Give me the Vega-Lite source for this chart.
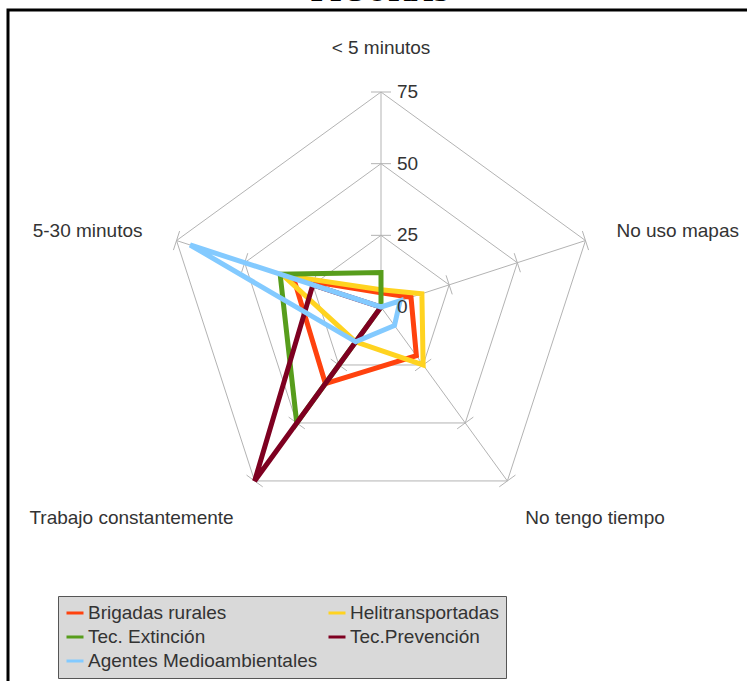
{
  "$schema": "https://vega.github.io/schema/vega-lite/v6.json",
  "width": 745,
  "height": 680,
  "autosize": {"type": "none"},
  "padding": {"left": 8, "top": 10, "right": 0, "bottom": 0},
  "background": "white",
  "config": {"view": {"stroke": "#000000", "strokeWidth": 3}},
  "title": {"text": "FIGURAS", "font": "Liberation Serif", "fontSize": 31, "fontWeight": "bold", "color": "#000000", "anchor": "middle", "frame": "group", "baseline": "alphabetic", "offset": 0, "dy": 22},
  "datasets": {
    "series": [
      {"serie": "Brigadas rurales", "eje": "< 5 minutos", "valor": 5},
      {"serie": "Brigadas rurales", "eje": "No uso mapas", "valor": 11},
      {"serie": "Brigadas rurales", "eje": "No tengo tiempo", "valor": 21},
      {"serie": "Brigadas rurales", "eje": "Trabajo constantemente", "valor": 33},
      {"serie": "Brigadas rurales", "eje": "5-30 minutos", "valor": 32},
      {"serie": "Helitransportadas", "eje": "< 5 minutos", "valor": 6},
      {"serie": "Helitransportadas", "eje": "No uso mapas", "valor": 15},
      {"serie": "Helitransportadas", "eje": "No tengo tiempo", "valor": 25},
      {"serie": "Helitransportadas", "eje": "Trabajo constantemente", "valor": 15},
      {"serie": "Helitransportadas", "eje": "5-30 minutos", "valor": 36},
      {"serie": "Tec. Extinción", "eje": "< 5 minutos", "valor": 12},
      {"serie": "Tec. Extinción", "eje": "No uso mapas", "valor": 0},
      {"serie": "Tec. Extinción", "eje": "No tengo tiempo", "valor": 0},
      {"serie": "Tec. Extinción", "eje": "Trabajo constantemente", "valor": 50},
      {"serie": "Tec. Extinción", "eje": "5-30 minutos", "valor": 37},
      {"serie": "Tec.Prevención", "eje": "< 5 minutos", "valor": 0},
      {"serie": "Tec.Prevención", "eje": "No uso mapas", "valor": 0},
      {"serie": "Tec.Prevención", "eje": "No tengo tiempo", "valor": 0},
      {"serie": "Tec.Prevención", "eje": "Trabajo constantemente", "valor": 75},
      {"serie": "Tec.Prevención", "eje": "5-30 minutos", "valor": 25},
      {"serie": "Agentes Medioambientales", "eje": "< 5 minutos", "valor": 0},
      {"serie": "Agentes Medioambientales", "eje": "No uso mapas", "valor": 7},
      {"serie": "Agentes Medioambientales", "eje": "No tengo tiempo", "valor": 8},
      {"serie": "Agentes Medioambientales", "eje": "Trabajo constantemente", "valor": 15},
      {"serie": "Agentes Medioambientales", "eje": "5-30 minutos", "valor": 70}
    ],
    "ejes": [
      {"eje": "< 5 minutos"},
      {"eje": "No uso mapas"},
      {"eje": "No tengo tiempo"},
      {"eje": "Trabajo constantemente"},
      {"eje": "5-30 minutos"}
    ],
    "rejilla": [
      {"eje": "< 5 minutos", "nivel": 25},
      {"eje": "No uso mapas", "nivel": 25},
      {"eje": "No tengo tiempo", "nivel": 25},
      {"eje": "Trabajo constantemente", "nivel": 25},
      {"eje": "5-30 minutos", "nivel": 25},
      {"eje": "< 5 minutos", "nivel": 50},
      {"eje": "No uso mapas", "nivel": 50},
      {"eje": "No tengo tiempo", "nivel": 50},
      {"eje": "Trabajo constantemente", "nivel": 50},
      {"eje": "5-30 minutos", "nivel": 50},
      {"eje": "< 5 minutos", "nivel": 75},
      {"eje": "No uso mapas", "nivel": 75},
      {"eje": "No tengo tiempo", "nivel": 75},
      {"eje": "Trabajo constantemente", "nivel": 75},
      {"eje": "5-30 minutos", "nivel": 75}
    ],
    "niveles": [
      {"nivel": 0},
      {"nivel": 25},
      {"nivel": 50},
      {"nivel": 75}
    ]
  },
  "layer": [
    {
      "data": {"name": "rejilla"},
      "transform": [
        {"calculate": "indexof(['< 5 minutos','No uso mapas','No tengo tiempo','Trabajo constantemente','5-30 minutos'], datum.eje)", "as": "idx"},
        {"calculate": "PI/2 - datum.idx*2*PI/5", "as": "ang"},
        {"calculate": "datum.nivel*215/75*cos(datum.ang)", "as": "gx"},
        {"calculate": "datum.nivel*215/75*sin(datum.ang)", "as": "gy"}
      ],
      "mark": {"type": "line", "interpolate": "linear-closed", "stroke": "#b3b3b3", "strokeWidth": 1},
      "encoding": {
        "x": {"field": "gx", "type": "quantitative", "scale": {"domain": [-373, 372], "nice": false, "zero": false}, "axis": null},
        "y": {"field": "gy", "type": "quantitative", "scale": {"domain": [-383, 297], "nice": false, "zero": false}, "axis": null},
        "detail": {"field": "nivel", "type": "nominal"},
        "order": {"field": "idx", "type": "quantitative"}
      }
    },
    {
      "data": {"name": "ejes"},
      "transform": [
        {"calculate": "indexof(['< 5 minutos','No uso mapas','No tengo tiempo','Trabajo constantemente','5-30 minutos'], datum.eje)", "as": "idx"},
        {"calculate": "PI/2 - datum.idx*2*PI/5", "as": "ang"},
        {"calculate": "0", "as": "c"},
        {"calculate": "215*cos(datum.ang)", "as": "ex"},
        {"calculate": "215*sin(datum.ang)", "as": "ey"}
      ],
      "mark": {"type": "rule", "stroke": "#b3b3b3", "strokeWidth": 1},
      "encoding": {
        "x": {"field": "c", "type": "quantitative", "scale": {"domain": [-373, 372], "nice": false, "zero": false}, "axis": null},
        "y": {"field": "c", "type": "quantitative", "scale": {"domain": [-383, 297], "nice": false, "zero": false}, "axis": null},
        "x2": {"field": "ex"},
        "y2": {"field": "ey"}
      }
    },
    {
      "data": {"name": "rejilla"},
      "transform": [
        {"calculate": "indexof(['< 5 minutos','No uso mapas','No tengo tiempo','Trabajo constantemente','5-30 minutos'], datum.eje)", "as": "idx"},
        {"calculate": "PI/2 - datum.idx*2*PI/5", "as": "ang"},
        {"calculate": "datum.nivel*215/75*cos(datum.ang) + 10*sin(datum.ang)", "as": "t1x"},
        {"calculate": "datum.nivel*215/75*sin(datum.ang) - 10*cos(datum.ang)", "as": "t1y"},
        {"calculate": "datum.nivel*215/75*cos(datum.ang) - 10*sin(datum.ang)", "as": "t2x"},
        {"calculate": "datum.nivel*215/75*sin(datum.ang) + 10*cos(datum.ang)", "as": "t2y"}
      ],
      "mark": {"type": "rule", "stroke": "#b3b3b3", "strokeWidth": 1},
      "encoding": {
        "x": {"field": "t1x", "type": "quantitative", "scale": {"domain": [-373, 372], "nice": false, "zero": false}, "axis": null},
        "y": {"field": "t1y", "type": "quantitative", "scale": {"domain": [-383, 297], "nice": false, "zero": false}, "axis": null},
        "x2": {"field": "t2x"},
        "y2": {"field": "t2y"}
      }
    },
    {
      "data": {"name": "ejes"},
      "transform": [
        {"calculate": "indexof(['< 5 minutos','No uso mapas','No tengo tiempo','Trabajo constantemente','5-30 minutos'], datum.eje)", "as": "idx"},
        {"filter": "datum.idx == 0"},
        {"calculate": "PI/2 - datum.idx*2*PI/5", "as": "ang"},
        {"calculate": "215*cos(datum.ang)", "as": "ex"},
        {"calculate": "215*sin(datum.ang)", "as": "ey"}
      ],
      "mark": {"type": "text", "align": "center", "baseline": "middle", "dy": -44, "font": "Liberation Sans", "fontSize": 19, "color": "#333333"},
      "encoding": {
        "x": {"field": "ex", "type": "quantitative", "scale": {"domain": [-373, 372], "nice": false, "zero": false}, "axis": null},
        "y": {"field": "ey", "type": "quantitative", "scale": {"domain": [-383, 297], "nice": false, "zero": false}, "axis": null},
        "text": {"field": "eje", "type": "nominal"}
      }
    },
    {
      "data": {"name": "ejes"},
      "transform": [
        {"calculate": "indexof(['< 5 minutos','No uso mapas','No tengo tiempo','Trabajo constantemente','5-30 minutos'], datum.eje)", "as": "idx"},
        {"filter": "datum.idx == 1"},
        {"calculate": "PI/2 - datum.idx*2*PI/5", "as": "ang"},
        {"calculate": "215*cos(datum.ang)", "as": "ex"},
        {"calculate": "215*sin(datum.ang)", "as": "ey"}
      ],
      "mark": {"type": "text", "align": "left", "baseline": "middle", "dx": 31, "dy": -10, "font": "Liberation Sans", "fontSize": 19, "color": "#333333"},
      "encoding": {
        "x": {"field": "ex", "type": "quantitative", "scale": {"domain": [-373, 372], "nice": false, "zero": false}, "axis": null},
        "y": {"field": "ey", "type": "quantitative", "scale": {"domain": [-383, 297], "nice": false, "zero": false}, "axis": null},
        "text": {"field": "eje", "type": "nominal"}
      }
    },
    {
      "data": {"name": "ejes"},
      "transform": [
        {"calculate": "indexof(['< 5 minutos','No uso mapas','No tengo tiempo','Trabajo constantemente','5-30 minutos'], datum.eje)", "as": "idx"},
        {"filter": "datum.idx == 2"},
        {"calculate": "PI/2 - datum.idx*2*PI/5", "as": "ang"},
        {"calculate": "215*cos(datum.ang)", "as": "ex"},
        {"calculate": "215*sin(datum.ang)", "as": "ey"}
      ],
      "mark": {"type": "text", "align": "left", "baseline": "middle", "dx": 18, "dy": 37, "font": "Liberation Sans", "fontSize": 19, "color": "#333333"},
      "encoding": {
        "x": {"field": "ex", "type": "quantitative", "scale": {"domain": [-373, 372], "nice": false, "zero": false}, "axis": null},
        "y": {"field": "ey", "type": "quantitative", "scale": {"domain": [-383, 297], "nice": false, "zero": false}, "axis": null},
        "text": {"field": "eje", "type": "nominal"}
      }
    },
    {
      "data": {"name": "ejes"},
      "transform": [
        {"calculate": "indexof(['< 5 minutos','No uso mapas','No tengo tiempo','Trabajo constantemente','5-30 minutos'], datum.eje)", "as": "idx"},
        {"filter": "datum.idx == 3"},
        {"calculate": "PI/2 - datum.idx*2*PI/5", "as": "ang"},
        {"calculate": "215*cos(datum.ang)", "as": "ex"},
        {"calculate": "215*sin(datum.ang)", "as": "ey"}
      ],
      "mark": {"type": "text", "align": "right", "baseline": "middle", "dx": -21, "dy": 37, "font": "Liberation Sans", "fontSize": 19, "color": "#333333"},
      "encoding": {
        "x": {"field": "ex", "type": "quantitative", "scale": {"domain": [-373, 372], "nice": false, "zero": false}, "axis": null},
        "y": {"field": "ey", "type": "quantitative", "scale": {"domain": [-383, 297], "nice": false, "zero": false}, "axis": null},
        "text": {"field": "eje", "type": "nominal"}
      }
    },
    {
      "data": {"name": "ejes"},
      "transform": [
        {"calculate": "indexof(['< 5 minutos','No uso mapas','No tengo tiempo','Trabajo constantemente','5-30 minutos'], datum.eje)", "as": "idx"},
        {"filter": "datum.idx == 4"},
        {"calculate": "PI/2 - datum.idx*2*PI/5", "as": "ang"},
        {"calculate": "215*cos(datum.ang)", "as": "ex"},
        {"calculate": "215*sin(datum.ang)", "as": "ey"}
      ],
      "mark": {"type": "text", "align": "right", "baseline": "middle", "dx": -34, "dy": -10, "font": "Liberation Sans", "fontSize": 19, "color": "#333333"},
      "encoding": {
        "x": {"field": "ex", "type": "quantitative", "scale": {"domain": [-373, 372], "nice": false, "zero": false}, "axis": null},
        "y": {"field": "ey", "type": "quantitative", "scale": {"domain": [-383, 297], "nice": false, "zero": false}, "axis": null},
        "text": {"field": "eje", "type": "nominal"}
      }
    },
    {
      "data": {"name": "series"},
      "transform": [
        {"calculate": "indexof(['< 5 minutos','No uso mapas','No tengo tiempo','Trabajo constantemente','5-30 minutos'], datum.eje)", "as": "idx"},
        {"calculate": "PI/2 - datum.idx*2*PI/5", "as": "ang"},
        {"calculate": "datum.valor*215/75*cos(datum.ang)", "as": "px"},
        {"calculate": "datum.valor*215/75*sin(datum.ang)", "as": "py"}
      ],
      "mark": {"type": "line", "interpolate": "linear-closed", "strokeWidth": 5, "strokeJoin": "miter"},
      "encoding": {
        "x": {"field": "px", "type": "quantitative", "scale": {"domain": [-373, 372], "nice": false, "zero": false}, "axis": null},
        "y": {"field": "py", "type": "quantitative", "scale": {"domain": [-383, 297], "nice": false, "zero": false}, "axis": null},
        "order": {"field": "idx", "type": "quantitative"},
        "color": {
          "field": "serie",
          "type": "nominal",
          "scale": {
            "domain": ["Brigadas rurales", "Helitransportadas", "Tec. Extinción", "Tec.Prevención", "Agentes Medioambientales"],
            "range": ["#ff420e", "#ffd320", "#579d1c", "#7e0021", "#83caff"]
          },
          "legend": {
            "orient": "none",
            "legendX": 50,
            "legendY": 586,
            "columns": 2,
            "direction": "horizontal",
            "title": null,
            "symbolType": "stroke",
            "symbolSize": 289,
            "symbolStrokeWidth": 3,
            "labelFont": "Liberation Sans",
            "labelFontSize": 19,
            "labelColor": "#333333",
            "labelLimit": 400,
            "labelOffset": 3,
            "fillColor": "#d9d9d9",
            "strokeColor": "#555555",
            "padding": 7,
            "rowPadding": 4,
            "columnPadding": 4
          }
        }
      }
    },
    {
      "data": {"name": "niveles"},
      "transform": [
        {"calculate": "0", "as": "c"},
        {"calculate": "datum.nivel*215/75", "as": "ly"}
      ],
      "mark": {"type": "text", "align": "left", "baseline": "middle", "dx": 16, "font": "Liberation Sans", "fontSize": 19, "color": "#333333"},
      "encoding": {
        "x": {"field": "c", "type": "quantitative", "scale": {"domain": [-373, 372], "nice": false, "zero": false}, "axis": null},
        "y": {"field": "ly", "type": "quantitative", "scale": {"domain": [-383, 297], "nice": false, "zero": false}, "axis": null},
        "text": {"field": "nivel", "type": "quantitative"}
      }
    }
  ]
}
